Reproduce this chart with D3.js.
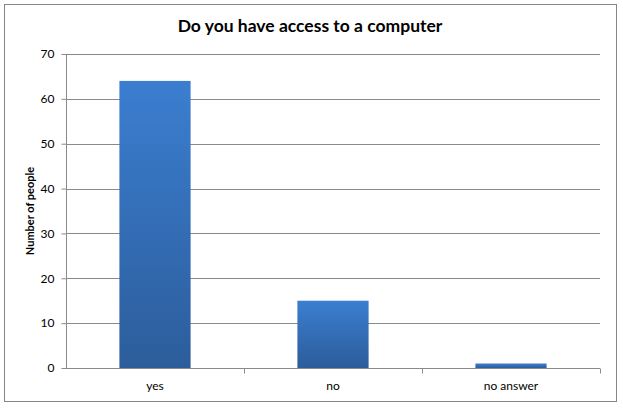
<!DOCTYPE html>
<html><head><meta charset="utf-8">
<script src="https://cdn.jsdelivr.net/npm/d3@7"></script>
<style>body{margin:0;background:#fff}text{font-family:Lato,"Open Sans",sans-serif}</style>
</head><body>
<svg id="c" width="623" height="408"></svg>
<script>
const categories = ["yes", "no", "no answer"];
const values = [64, 15, 1];
const yTicks = [0, 10, 20, 30, 40, 50, 60, 70];
const title = "Do you have access to a computer";
const yTitle = "Number of people";

const svg = d3.select("#c");
const m = {l: 66, r: 600, t: 54, b: 368};
const x = d3.scaleBand().domain(categories).range([m.l, m.r]).paddingInner(0.6).paddingOuter(0.3);
const y = d3.scaleLinear().domain([0, 70]).range([m.b, m.t]);

const defs = svg.append("defs");
const g = defs.append("linearGradient").attr("id", "bg").attr("x1", 0).attr("y1", 0).attr("x2", 0).attr("y2", 1);
g.append("stop").attr("offset", "0%").attr("stop-color", "#3b7ed0");
g.append("stop").attr("offset", "100%").attr("stop-color", "#2c5d9b");

svg.append("rect").attr("x", 4.5).attr("y", 4.5).attr("width", 612).attr("height", 397)
  .attr("fill", "#fff").attr("stroke", "#868686").attr("stroke-width", 1);

svg.append("text").attr("x", 310).attr("y", 32).attr("text-anchor", "middle")
  .attr("font-size", 17.5).attr("font-weight", "bold").attr("fill", "#000").text(title);

// gridlines
svg.append("g").selectAll("line").data(yTicks.filter(d => d > 0)).join("line")
  .attr("x1", m.l).attr("x2", m.r).attr("y1", d => Math.round(y(d)) + 0.5).attr("y2", d => Math.round(y(d)) + 0.5)
  .attr("stroke", "#8a8a8a").attr("stroke-width", 1);

// y axis
const ya = svg.append("g").attr("transform", `translate(${m.l + 0.5},0)`)
  .call(d3.axisLeft(y).tickValues(yTicks).tickSize(5).tickPadding(7));
ya.select(".domain").attr("stroke", "#8a8a8a").attr("d", `M0,${m.t}V${m.b}`);
ya.selectAll(".tick line").attr("stroke", "#8a8a8a");
ya.selectAll("text").attr("font-size", 12).attr("fill", "#000");

// bars
svg.append("g").selectAll("rect").data(values).join("rect")
  .attr("x", (d, i) => x(categories[i])).attr("width", x.bandwidth())
  .attr("y", d => y(d)).attr("height", d => y(0) - y(d))
  .attr("fill", "url(#bg)");

// x axis
const xb = d3.scaleLinear().domain([0, 3]).range([m.l, m.r]);
const xa = svg.append("g").attr("transform", `translate(0,${m.b + 0.5})`);
xa.append("line").attr("x1", m.l).attr("x2", m.r).attr("stroke", "#8a8a8a");
xa.selectAll("line.t").data([1, 2, 3]).join("line").attr("class", "t")
  .attr("x1", d => Math.round(xb(d)) + 0.5).attr("x2", d => Math.round(xb(d)) + 0.5).attr("y1", 0).attr("y2", 5)
  .attr("stroke", "#8a8a8a");
xa.selectAll("text").data(categories).join("text")
  .attr("x", d => x(d) + x.bandwidth() / 2).attr("y", 21).attr("text-anchor", "middle")
  .attr("font-size", 12).attr("fill", "#000").text(d => d);

svg.append("text").attr("transform", `translate(34,${(m.t + m.b) / 2}) rotate(-90)`)
  .attr("text-anchor", "middle").attr("font-size", 11).attr("font-weight", "bold").attr("fill", "#000").text(yTitle);
</script>
</body></html>
